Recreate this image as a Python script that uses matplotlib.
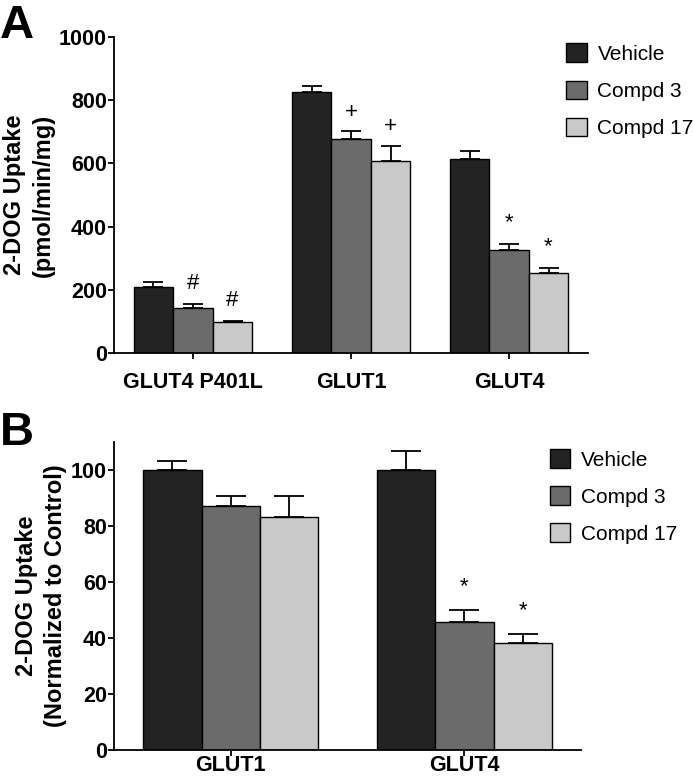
import numpy as np
import matplotlib.pyplot as plt

plt.rcParams['font.family'] = ['Liberation Sans', 'DejaVu Sans']

# treatment groups and bar colours
treatments = ["Vehicle", "Compd 3", "Compd 17"]
colors = ["#232323", "#6b6b6b", "#c9c9c9"]

# panel A: absolute uptake (pmol/min/mg)
cells_a = ["GLUT4 P401L", "GLUT1", "GLUT4"]
mean_a = [[210, 825, 614],
          [141, 678, 327],
          [97, 608, 254]]
sem_a = [[16, 20, 26],
         [14, 23, 17],
         [4, 48, 14]]
marks_a = [["", "", ""],
           ["#", "+", "*"],
           ["#", "+", "*"]]

# panel B: normalized to vehicle
cells_b = ["GLUT1", "GLUT4"]
mean_b = [[100, 100],
          [86.9, 45.5],
          [83.0, 38.2]]
sem_b = [[3.2, 6.5],
         [3.7, 4.5],
         [7.6, 3.3]]
marks_b = [["", ""],
           ["", "*"],
           ["", "*"]]

fig = plt.figure(figsize=(6.93, 7.79), dpi=100)
ax_a = fig.add_axes([0.1645, 0.5469, 0.684, 0.4056])
ax_b = fig.add_axes([0.1645, 0.0375, 0.674, 0.3955])

width = 0.25


def draw_panel(ax, cells, means, sems, marks, capsize, mark_offsets, xpad):
    x = np.arange(len(cells))
    for i, name in enumerate(treatments):
        pos = x + (i - 1) * width
        ax.bar(pos, means[i], width, color=colors[i], edgecolor="black",
               linewidth=1.0, label=name, zorder=2)
        ax.errorbar(pos, means[i], yerr=[np.zeros(len(cells)), sems[i]],
                    fmt="none", ecolor="black", elinewidth=1.3,
                    capsize=capsize, capthick=1.3, zorder=1)
        for j, m in enumerate(marks[i]):
            if m:
                ax.annotate(m, (pos[j], means[i][j] + sems[i][j]),
                            xytext=(0, mark_offsets[m]), textcoords="offset points",
                            ha="center", va="bottom", fontsize=16)
    ax.set_xticks(x)
    ax.set_xticklabels(cells, fontsize=15.5, fontweight="bold")
    ax.set_xlim(-0.5, len(cells) - 0.5)
    for side in ["top", "right"]:
        ax.spines[side].set_visible(False)
    for side in ["left", "bottom"]:
        ax.spines[side].set_linewidth(1.3)
    ax.tick_params(axis="both", width=1.3, length=4)
    ax.tick_params(axis="x", pad=xpad)
    ax.tick_params(axis="y", pad=1)


draw_panel(ax_a, cells_a, mean_a, sem_a, marks_a, 7.2, {"#": 7, "+": 6, "*": 8}, 10)
ax_a.set_ylim(0, 1000)
ax_a.set_yticks([0, 200, 400, 600, 800, 1000])
ax_a.set_yticklabels([0, 200, 400, 600, 800, 1000], fontsize=15.5, fontweight="bold")
ax_a.set_ylabel("2-DOG Uptake\n(pmol/min/mg)", fontsize=17, fontweight="bold",
                labelpad=3, linespacing=1.3)

draw_panel(ax_b, cells_b, mean_b, sem_b, marks_b, 10.8, {"*": 9}, 0)
ax_b.set_ylim(0, 110)
ax_b.set_yticks([0, 20, 40, 60, 80, 100])
ax_b.set_yticklabels([0, 20, 40, 60, 80, 100], fontsize=15.5, fontweight="bold")
ax_b.set_ylabel("2-DOG Uptake\n(Normalized to Control)", fontsize=17, fontweight="bold",
                labelpad=3, linespacing=1.3)

for ax, anchor in [(ax_a, (0.805, 0.955)), (ax_b, (0.781, 0.434))]:
    ax.legend(loc="upper left", bbox_to_anchor=anchor, bbox_transform=fig.transFigure,
              frameon=False, fontsize=15, handlelength=1.0, handleheight=1.0,
              handletextpad=0.5, labelspacing=0.8, borderaxespad=0)

fig.text(0.0, 0.995, "A", fontsize=34, fontweight="bold", va="top", ha="left")
fig.text(0.0, 0.472, "B", fontsize=34, fontweight="bold", va="top", ha="left")

fig.savefig("out.png", dpi=100)
